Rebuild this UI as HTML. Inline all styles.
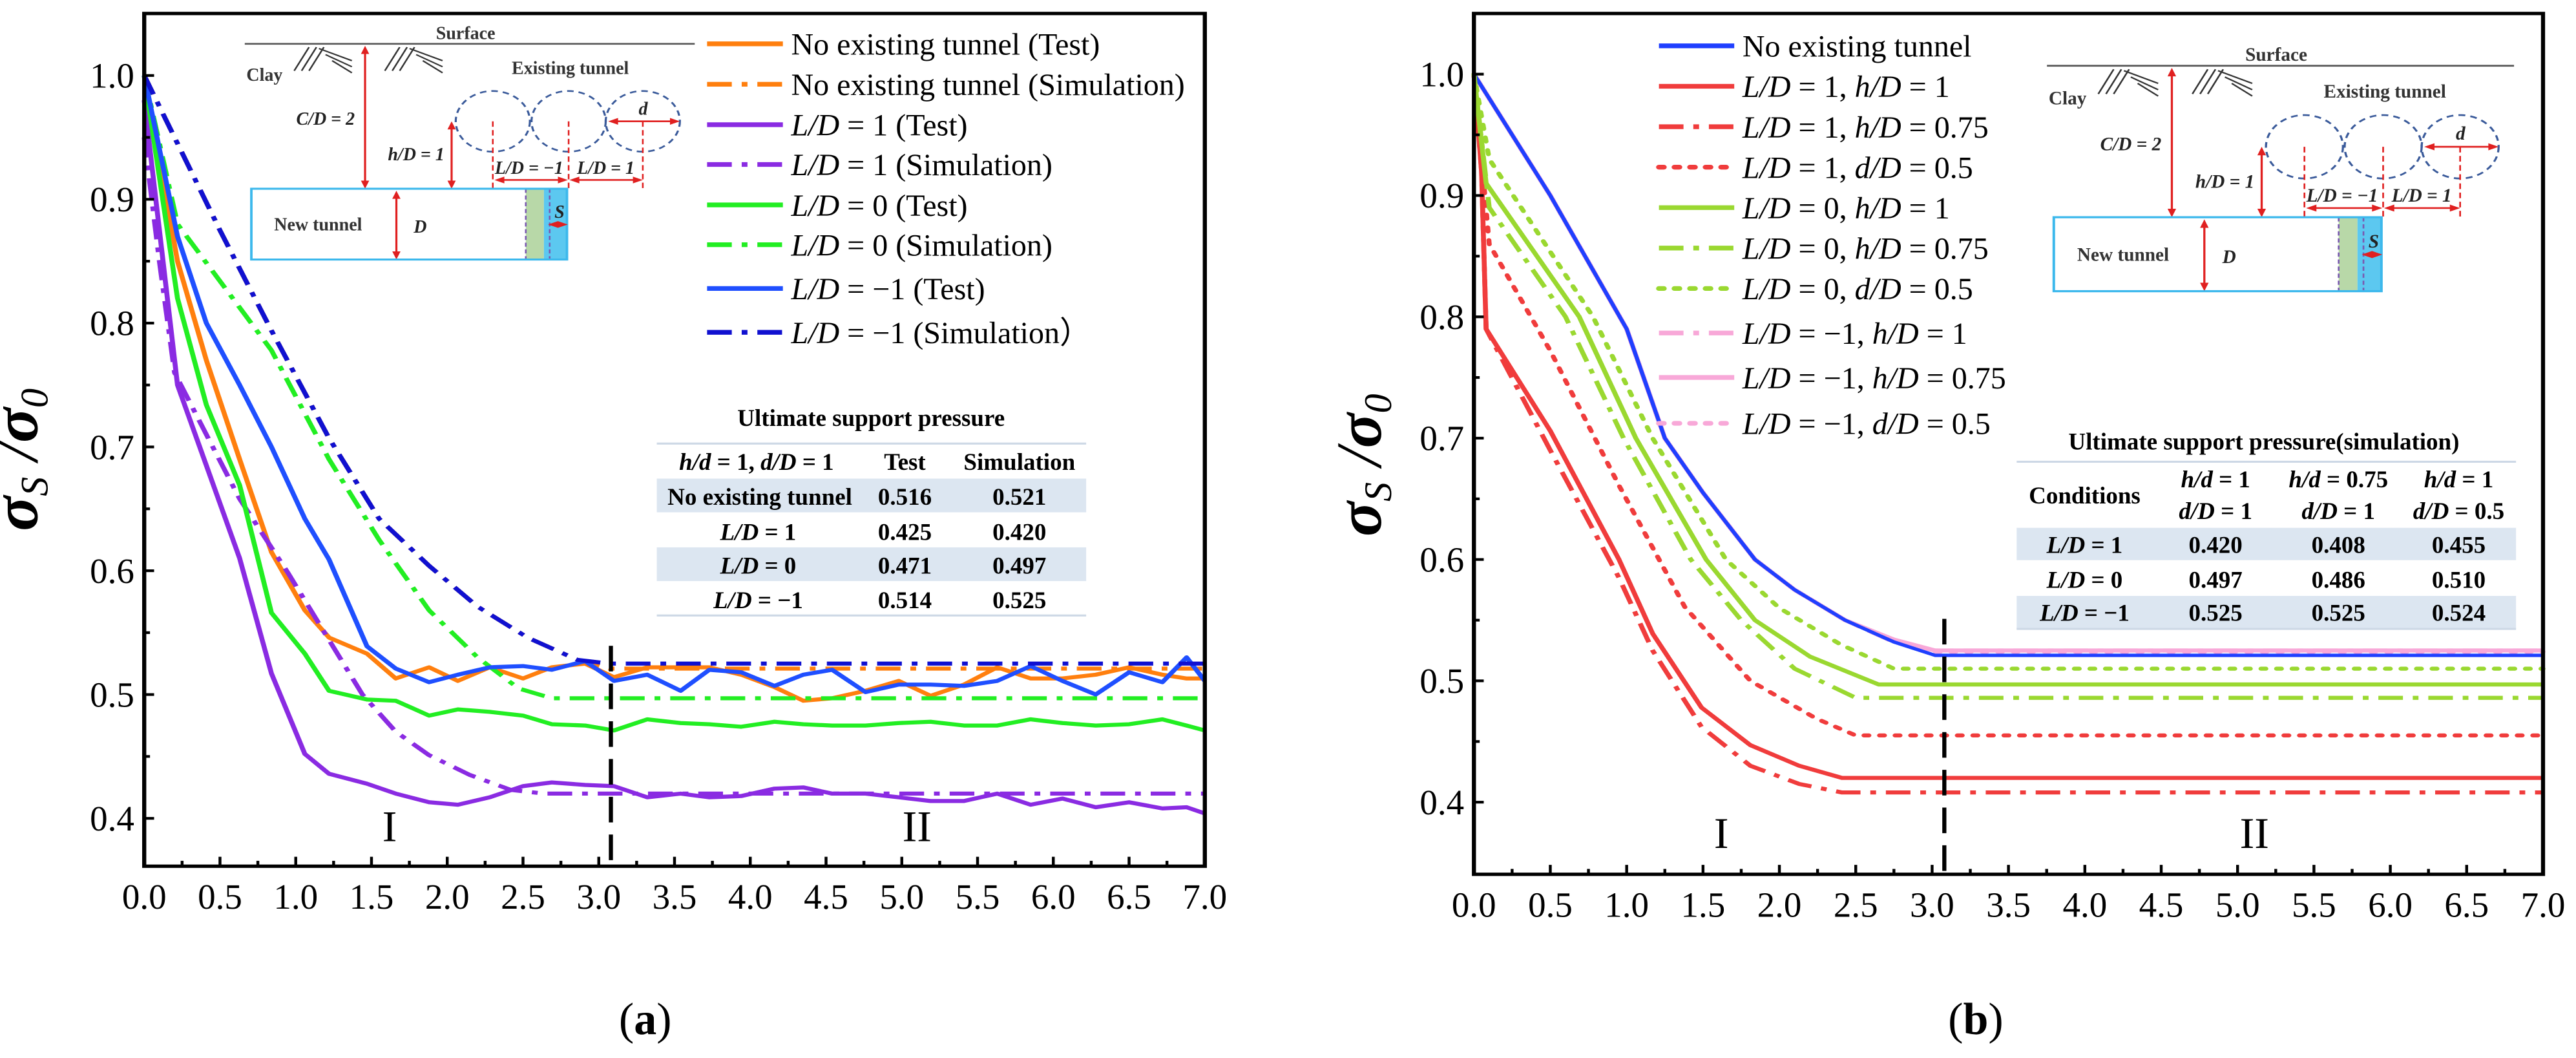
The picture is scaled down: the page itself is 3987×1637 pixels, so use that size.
<!DOCTYPE html>
<html><head><meta charset="utf-8"><style>
body{margin:0;background:#fff}
svg{display:block}
text{font-family:"Liberation Serif",serif}
</style></head><body>
<svg id="fig" width="3987" height="1637" viewBox="0 0 3987 1637" xmlns="http://www.w3.org/2000/svg"></svg>
<script>
// ---------- data: chart (a) ----------
const xA_test = [0,0.22,0.41,0.63,0.84,1.06,1.22,1.47,1.66,1.88,2.07,2.28,2.5,2.69,2.91,3.1,3.32,3.54,3.73,3.94,4.16,4.35,4.54,4.76,4.98,5.19,5.41,5.63,5.85,6.06,6.28,6.5,6.72,6.88,7.0];
const noTunnelTest = [1.0,0.85,0.77,0.69,0.615,0.568,0.546,0.533,0.513,0.522,0.511,0.522,0.513,0.522,0.525,0.514,0.522,0.522,0.522,0.516,0.506,0.495,0.497,0.503,0.511,0.499,0.508,0.522,0.513,0.513,0.516,0.522,0.516,0.513,0.513];
const ld1Test = [0.98,0.75,0.685,0.61,0.517,0.452,0.436,0.428,0.42,0.413,0.411,0.417,0.426,0.429,0.427,0.426,0.417,0.42,0.417,0.418,0.424,0.425,0.42,0.42,0.417,0.414,0.414,0.42,0.411,0.416,0.409,0.413,0.408,0.409,0.404];
const ld0Test = [1.0,0.82,0.734,0.669,0.566,0.533,0.503,0.496,0.495,0.483,0.488,0.486,0.483,0.476,0.475,0.471,0.48,0.477,0.476,0.474,0.478,0.476,0.475,0.475,0.477,0.478,0.475,0.475,0.48,0.477,0.475,0.476,0.48,0.475,0.471];
const ldm1Test = [1.0,0.87,0.8,0.75,0.70,0.642,0.609,0.539,0.521,0.51,0.516,0.522,0.523,0.52,0.527,0.511,0.516,0.503,0.52,0.518,0.507,0.516,0.52,0.502,0.508,0.508,0.507,0.511,0.523,0.511,0.5,0.518,0.51,0.53,0.511];
const xA_simNo = [0,0.2,0.5,0.84,1.22,1.55,1.88,2.2,2.53,2.86,3.07,7.0];
const noTunnelSim = [1.0,0.95,0.875,0.794,0.707,0.642,0.604,0.571,0.546,0.528,0.521,0.521];
const ldm1Sim = [1.0,0.95,0.875,0.794,0.707,0.642,0.604,0.571,0.546,0.528,0.525,0.525];
const xA_sim1 = [0,0.1,0.2,0.41,0.63,0.95,1.22,1.44,1.66,1.88,2.15,2.42,2.64,7.0];
const ld1Sim = [0.95,0.85,0.76,0.71,0.658,0.598,0.544,0.5,0.47,0.451,0.435,0.423,0.42,0.42];
const xA_sim0 = [0,0.22,0.84,1.22,1.55,1.88,2.2,2.47,2.69,7.0];
const ld0Sim = [1.0,0.88,0.778,0.69,0.625,0.568,0.53,0.505,0.497,0.497];
// ---------- data: chart (b) ----------
const xB_top = [0,0.5,1.0,1.25,1.5,1.84,2.1,2.43,2.75,3.02,7.0];
const bNo = [1.0,0.9,0.79,0.70,0.655,0.6,0.575,0.55,0.532,0.521,0.521];
const bM1h1 = [1.0,0.9,0.79,0.70,0.655,0.6,0.575,0.55,0.532,0.525,0.525];
const bM1h075 = [1.0,0.9,0.79,0.70,0.655,0.6,0.575,0.55,0.534,0.525,0.525];
const bM1d05 = [1.0,0.9,0.79,0.70,0.655,0.6,0.575,0.55,0.533,0.524,0.524];
const xB_r1 = [0,0.05,0.08,0.5,0.95,1.17,1.49,1.81,2.13,2.41,7.0];
const bL1h1 = [1.0,0.92,0.79,0.706,0.6,0.539,0.478,0.447,0.43,0.42,0.42];
const bL1h075 = [1.0,0.92,0.79,0.69,0.585,0.525,0.462,0.43,0.415,0.408,0.408];
const xB_r3 = [0,0.1,0.5,0.95,1.38,1.81,2.24,2.5,7.0];
const bL1d05 = [1.0,0.86,0.772,0.661,0.561,0.5,0.469,0.455,0.455];
const xB_g1 = [0,0.08,0.69,1.06,1.52,1.84,2.2,2.65,7.0];
const bL0h1 = [1.0,0.91,0.8,0.7,0.6,0.55,0.52,0.497,0.497];
const xB_g2 = [0,0.1,0.6,0.98,1.42,1.75,2.1,2.5,7.0];
const bL0h075 = [1.0,0.89,0.8,0.7,0.6,0.55,0.51,0.486,0.486];
const xB_g3 = [0,0.1,0.78,1.17,1.65,2.0,2.4,2.75,7.0];
const bL0d05 = [1.0,0.93,0.8,0.7,0.6,0.56,0.53,0.51,0.51];
const xTicks = [0,0.5,1,1.5,2,2.5,3,3.5,4,4.5,5,5.5,6,6.5,7];
const yTicks = [0.4,0.5,0.6,0.7,0.8,0.9,1.0];
const tableA = [["No existing tunnel","0.516","0.521"],["L/D =  1","0.425","0.420"],["L/D =  0","0.471","0.497"],["L/D = \u22121","0.514","0.525"]];
const tableB = [["L/D =  1","0.420","0.408","0.455"],["L/D =  0","0.497","0.486","0.510"],["L/D = \u22121","0.525","0.525","0.524"]];

const NS="http://www.w3.org/2000/svg";
const svg=document.getElementById('fig');
let CUR=svg;
function el(tag,attrs,parent,txt){const e=document.createElementNS(NS,tag);for(const k in attrs)e.setAttribute(k,attrs[k]);if(txt!==undefined)e.textContent=txt;(parent||CUR).appendChild(e);return e;}
function fixText(g,sx,sy){
  g.querySelectorAll('text').forEach(t=>{
    const tr=t.getAttribute('transform');
    if(tr){t.setAttribute('transform',tr+` scale(${1/sy},${1/sx})`);return;}
    const x=t.getAttribute('x')||0,y=t.getAttribute('y')||0;
    t.removeAttribute('x');t.removeAttribute('y');
    t.setAttribute('transform',`translate(${x},${y}) scale(${1/sx},${1/sy})`);
  });
}

const DASHDOT="30 12 7 12", DOT="6 13";
const TF=55, LF=48, BF=37, IF=28;
function makeAxes(P){
  P.sx=v=>P.x0+(v-0)*(P.x1-P.x0)/7;
  P.sy=v=>P.y10+(1-v)*(P.y04-P.y10)/0.6;
  return P;
}
function drawChart(P,series,name){
  const g=el('g',{});
  
  
  const gs=el('g',{},g);
  
  
  series.forEach(s=>{
    const d=s.x.map((xv,i)=>(i?'L':'M')+P.sx(xv).toFixed(1)+' '+P.sy(s.y[i]).toFixed(1)).join(' ');
    const p=el('path',{d:d,fill:'none',stroke:s.c,'stroke-width':s.w||6,'stroke-dasharray':s.dash||'','stroke-linecap':s.dash===DOT?'round':'butt','stroke-linejoin':'round'},gs);
    
    
  });
  const fr=el('rect',{x:P.x0,y:P.top,width:P.x1-P.x0,height:P.bot-P.top,fill:'none',stroke:'#000','stroke-width':5},g);
  
  
  for(let i=0;i<=28;i++){const v=i*0.25;const X=P.sx(v);const major=i%2===0;
    el('line',{x1:X,x2:X,y1:P.bot,y2:P.bot-(major?14:8),stroke:'#000','stroke-width':3.5},g);}
  xTicks.forEach(v=>{const t=el('text',{x:P.sx(v),y:P.bot+63,'font-size':TF,'text-anchor':'middle'},g,v.toFixed(1));
    
    });
  for(let v=0.4;v<=1.051;v+=0.05){const Y=P.sy(v);const major=Math.abs(v*10-Math.round(v*10))<0.01;
    el('line',{x1:P.x0,x2:P.x0+(major?12:7),y1:Y,y2:Y,stroke:'#000','stroke-width':4},g);}
  yTicks.forEach(v=>{const t=el('text',{x:P.x0-12,y:P.sy(v)+18,'font-size':TF,'text-anchor':'end'},g,v.toFixed(1));
    
    });
  const yt=el('text',{transform:`translate(${P.ytx},${P.yty}) rotate(-90)`,'font-size':100,'text-anchor':'middle','font-style':'italic','font-weight':'bold'},g);
  
  
  el('tspan',{},yt,'\u03C3');el('tspan',{'font-size':60,'font-weight':'normal',dy:16},yt,'S');
  el('tspan',{'font-weight':'normal',dy:-16},yt,' /');el('tspan',{},yt,'\u03C3');
  el('tspan',{'font-size':60,'font-weight':'normal',dy:16},yt,'0');
  const dv=el('line',{x1:P.sx(P.divX),x2:P.sx(P.divX),y1:P.divTop,y2:P.bot,stroke:'#000','stroke-width':5,'stroke-dasharray':'38 18'},g);
  
  
  [['I',P.sx(P.s1),P.stY],['II',P.sx(P.s2),P.stY]].forEach(a=>{const t=el('text',{x:a[1],y:a[2],'font-size':68,'text-anchor':'middle'},g,a[0]);
    
    });
  const cap=el('text',{x:P.capX,y:1534,'font-size':70,'text-anchor':'middle'},g);
  
  
  el('tspan',{},cap,'(');el('tspan',{'font-weight':'bold'},cap,P.cap);el('tspan',{},cap,')');
  return g;
}
function legend(items,lx,tx,ys,fs){
  const g=el('g',{});
  
  
  items.forEach((it,i)=>{
    const e=el('g',{},g);
    
    
    el('line',{x1:lx,x2:lx+92,y1:ys[i],y2:ys[i],stroke:it.c,'stroke-width':7,'stroke-dasharray':it.dash||'','stroke-linecap':it.dash===DOT?'round':'butt'},e);
    const t=el('text',{x:tx,y:ys[i]+16,'font-size':fs},e);
    it.t.forEach(p=>{el('tspan',p[1]?{'font-style':'italic'}:{},t,p[0]);});
  });
}
function inset(ox,oy,s){
  const g=el('g',{transform:`translate(${ox},${oy}) scale(${s})`});
  
  
  const B={'font-weight':'bold','font-size':IF,fill:'#333'};
  el('line',{x1:0,y1:35,x2:546,y2:35,stroke:'#555','stroke-width':2.5},g);
  el('text',Object.assign({x:268,y:28,'text-anchor':'middle'},B),g,'Surface');
  [[60],[170]].forEach(h=>{for(let k=0;k<3;k++){el('line',{x1:h[0]+k*9,y1:75,x2:h[0]+k*9+18,y2:40,stroke:'#333','stroke-width':2},g);el('line',{x1:h[0]+30+k*8,y1:42+k*9,x2:h[0]+70,y2:60+k*9,stroke:'#333','stroke-width':2},g);}});
  el('text',Object.assign({x:2,y:90},B),g,'Clay');
  const R='#e02020';
  function varr(x,y1,y2){el('line',{x1:x,y1:y1+8,x2:x,y2:y2-8,stroke:R,'stroke-width':2.5},g);
    el('path',{d:`M${x-5} ${y1+12}L${x} ${y1}L${x+5} ${y1+12}Z M${x-5} ${y2-12}L${x} ${y2}L${x+5} ${y2-12}Z`,fill:R},g);}
  function harr(x1,x2,y){el('line',{x1:x1+8,y1:y,x2:x2-8,y2:y,stroke:R,'stroke-width':2.5},g);
    el('path',{d:`M${x1+12} ${y-5}L${x1} ${y}L${x1+12} ${y+5}Z M${x2-12} ${y-5}L${x2} ${y}L${x2-12} ${y+5}Z`,fill:R},g);}
  varr(146,38,250); varr(251,150,250); varr(184,253,355);
  const I={'font-weight':'bold','font-style':'italic','font-size':IF,fill:'#222'};
  el('text',Object.assign({x:98,y:155,'text-anchor':'middle'},I),g,'C/D = 2');
  el('text',Object.assign({x:208,y:208,'text-anchor':'middle'},I),g,'h/D = 1');
  el('text',Object.assign({x:205,y:315},I),g,'D');
  el('text',Object.assign({x:395,y:80,'text-anchor':'middle'},B),g,'Existing tunnel');
  [301,393,483].forEach(cx=>el('circle',{cx:cx,cy:150,r:45,fill:'none',stroke:'#3a5a9a','stroke-width':2.5,'stroke-dasharray':'8 6'},g));
  [301,393,483].forEach(cx=>el('line',{x1:cx,y1:150,x2:cx,y2:250,stroke:R,'stroke-width':2,'stroke-dasharray':'8 5'},g));
  harr(303,392,237); harr(394,483,237); harr(441,528,150);
  el('text',Object.assign({x:345,y:228,'text-anchor':'middle','font-size':24},I),g,'L/D = \u22121');
  el('text',Object.assign({x:438,y:228,'text-anchor':'middle','font-size':24},I),g,'L/D = 1');
  el('text',Object.assign({x:478,y:140},I),g,'d');
  el('rect',{x:341,y:250,width:22,height:105,fill:'#b8d8a8'},g);
  el('rect',{x:363,y:250,width:28,height:105,fill:'#5cc8f0'},g);
  el('line',{x1:341,y1:250,x2:341,y2:355,stroke:'#7a5ab0','stroke-width':2,'stroke-dasharray':'6 4'},g);
  el('line',{x1:370,y1:250,x2:370,y2:355,stroke:'#7a5ab0','stroke-width':2,'stroke-dasharray':'6 4'},g);
  el('rect',{x:8,y:250,width:383,height:105,fill:'none',stroke:'#3cb8ec','stroke-width':3},g);
  el('text',Object.assign({x:89,y:312,'text-anchor':'middle'},B),g,'New tunnel');
  el('text',Object.assign({x:382,y:293,'text-anchor':'middle','font-size':24},I),g,'S');
  harr(368,392,303);
}

// ---------- panel (a) ----------
const SAX=1.2755, SY=1.043, SBX=1.267;
const pA=el('g',{transform:`scale(${SAX},${SY})`},svg);


CUR=pA;
const PA=makeAxes({x0:175,x1:1462,top:20,bot:1285,y10:112,y04:1214,ytx:45,yty:682,divX:3.08,divTop:958,s1:1.62,s2:5.1,stY:1248,capX:783,cap:'a'});
drawChart(PA,[
  {n:'no-tunnel-test',x:xA_test,y:noTunnelTest,c:'#ff7f0e'},
  {n:'no-tunnel-sim',x:xA_simNo,y:noTunnelSim,c:'#ff7f0e',dash:DASHDOT},
  {n:'ld1-test',x:xA_test,y:ld1Test,c:'#8a2be2'},
  {n:'ld1-sim',x:xA_sim1,y:ld1Sim,c:'#8a2be2',dash:DASHDOT},
  {n:'ld0-test',x:xA_test,y:ld0Test,c:'#22ee22'},
  {n:'ld0-sim',x:xA_sim0,y:ld0Sim,c:'#22ee22',dash:DASHDOT},
  {n:'ldm1-test',x:xA_test,y:ldm1Test,c:'#1f4fff'},
  {n:'ldm1-sim',x:xA_simNo,y:ldm1Sim,c:'#1010d0',dash:DASHDOT}
],'chart-a');
legend([
 {c:'#ff7f0e',t:[['No existing tunnel (Test)']]},
 {c:'#ff7f0e',dash:DASHDOT,t:[['No existing tunnel (Simulation)']]},
 {c:'#8a2be2',t:[['L/D',1],[' = 1 (Test)']]},
 {c:'#8a2be2',dash:DASHDOT,t:[['L/D',1],[' = 1 (Simulation)']]},
 {c:'#22ee22',t:[['L/D',1],[' = 0 (Test)']]},
 {c:'#22ee22',dash:DASHDOT,t:[['L/D',1],[' = 0 (Simulation)']]},
 {c:'#1f4fff',t:[['L/D',1],[' = \u22121 (Test)']]},
 {c:'#1010d0',dash:DASHDOT,t:[['L/D',1],[' = \u22121 (Simulation\uFF09']]}
],858,960,[65,125,185,244,304,363,428,493],LF);
inset(297,30,1);
(function(){
  const g=el('g',{});
  
  
  el('rect',{x:797,y:710,width:521,height:50,fill:'#dce6f1'},g);
  el('rect',{x:797,y:812,width:521,height:50,fill:'#dce6f1'},g);
  el('line',{x1:797,x2:1318,y1:658,y2:658,stroke:'#cdd8e6','stroke-width':3},g);
  el('line',{x1:797,x2:1318,y1:913,y2:913,stroke:'#cdd8e6','stroke-width':3},g);
  const B={'font-weight':'bold','font-size':BF,'text-anchor':'middle'};
  el('text',Object.assign({x:1057,y:632},B),g,'Ultimate support pressure');
  const h=el('text',Object.assign({x:918,y:697},B),g);
  el('tspan',{'font-style':'italic'},h,'h/d');el('tspan',{},h,' = 1, ');el('tspan',{'font-style':'italic'},h,'d/D');el('tspan',{},h,' = 1');
  el('text',Object.assign({x:1098,y:697},B),g,'Test');
  el('text',Object.assign({x:1237,y:697},B),g,'Simulation');
  const ry=[749,801,851,902];
  tableA.forEach((r,i)=>{
    const t=el('text',Object.assign({x:r[0].startsWith('L/D')?920:922,y:ry[i]},B),g);
    if(r[0].startsWith('L/D')){el('tspan',{'font-style':'italic'},t,'L/D');el('tspan',{},t,r[0].slice(3));}else t.textContent=r[0];
    el('text',Object.assign({x:1098,y:ry[i]},B),g,r[1]);
    el('text',Object.assign({x:1237,y:ry[i]},B),g,r[2]);
  });
})();
fixText(pA,SAX,SY);

// ---------- panel (b) ----------
const pB=el('g',{transform:`matrix(${SBX},0,0,${SY},${2000-2000*SBX},0)`},svg);


CUR=pB;
const PB=makeAxes({x0:2222,x1:3528,top:20,bot:1297,y10:110,y04:1190,ytx:2108,yty:690,divX:3.08,divTop:918,s1:1.62,s2:5.11,stY:1258,capX:2835,cap:'b'});
drawChart(PB,[
  {n:'ldm1-d05',x:xB_top,y:bM1d05,c:'#f8a8d8',dash:DOT},
  {n:'ldm1-h075',x:xB_top,y:bM1h075,c:'#f8a8d8'},
  {n:'ldm1-h1',x:xB_top,y:bM1h1,c:'#f8a8d8',dash:DASHDOT},
  {n:'no-tunnel',x:xB_top,y:bNo,c:'#1f3fff',w:5},
  {n:'ld1-h1',x:xB_r1,y:bL1h1,c:'#f03c3c'},
  {n:'ld1-h075',x:xB_r1,y:bL1h075,c:'#f03c3c',dash:DASHDOT},
  {n:'ld1-d05',x:xB_r3,y:bL1d05,c:'#f03c3c',dash:DOT},
  {n:'ld0-h1',x:xB_g1,y:bL0h1,c:'#9ad830'},
  {n:'ld0-h075',x:xB_g2,y:bL0h075,c:'#9ad830',dash:DASHDOT},
  {n:'ld0-d05',x:xB_g3,y:bL0d05,c:'#9ad830',dash:DOT}
],'chart-b');
legend([
 {c:'#1f3fff',t:[['No existing tunnel']]},
 {c:'#f03c3c',t:[['L/D',1],[' = 1, '],['h/D',1],[' = 1']]},
 {c:'#f03c3c',dash:DASHDOT,t:[['L/D',1],[' = 1, '],['h/D',1],[' = 0.75']]},
 {c:'#f03c3c',dash:DOT,t:[['L/D',1],[' = 1, '],['d/D',1],[' = 0.5']]},
 {c:'#9ad830',t:[['L/D',1],[' = 0, '],['h/D',1],[' = 1']]},
 {c:'#9ad830',dash:DASHDOT,t:[['L/D',1],[' = 0, '],['h/D',1],[' = 0.75']]},
 {c:'#9ad830',dash:DOT,t:[['L/D',1],[' = 0, '],['d/D',1],[' = 0.5']]},
 {c:'#f8a8d8',dash:DASHDOT,t:[['L/D',1],[' = \u22121, '],['h/D',1],[' = 1']]},
 {c:'#f8a8d8',t:[['L/D',1],[' = \u22121, '],['h/D',1],[' = 0.75']]},
 {c:'#f8a8d8',dash:DOT,t:[['L/D',1],[' = \u22121, '],['d/D',1],[' = 0.5']]}
],2448,2550,[68,128,188,248,308,368,428,494,560,628],LF);
inset(2922,61,1.045);
(function(){
  const g=el('g',{});
  
  
  el('rect',{x:2885,y:783,width:610,height:48,fill:'#dce6f1'},g);
  el('rect',{x:2885,y:884,width:610,height:49,fill:'#dce6f1'},g);
  el('line',{x1:2885,x2:3495,y1:685,y2:685,stroke:'#cdd8e6','stroke-width':3},g);
  el('line',{x1:2885,x2:3495,y1:933,y2:933,stroke:'#cdd8e6','stroke-width':3},g);
  const B={'font-weight':'bold','font-size':BF,'text-anchor':'middle'};
  el('text',Object.assign({x:3187,y:667},B),g,'Ultimate support pressure(simulation)');
  el('text',Object.assign({x:2968,y:747},B),g,'Conditions');
  const hd=[[3128,'h/d',' = 1','d/D',' = 1'],[3278,'h/d',' = 0.75','d/D',' = 1'],[3425,'h/d',' = 1','d/D',' = 0.5']];
  hd.forEach(h=>{
    const a=el('text',Object.assign({x:h[0],y:723},B),g);el('tspan',{'font-style':'italic'},a,h[1]);el('tspan',{},a,h[2]);
    const b=el('text',Object.assign({x:h[0],y:770},B),g);el('tspan',{'font-style':'italic'},b,h[3]);el('tspan',{},b,h[4]);
  });
  const ry=[820,872,921], cx=[2968,3128,3278,3425];
  tableB.forEach((r,i)=>{
    const t=el('text',Object.assign({x:cx[0],y:ry[i]},B),g);
    el('tspan',{'font-style':'italic'},t,'L/D');el('tspan',{},t,r[0].slice(3));
    for(let k=1;k<4;k++)el('text',Object.assign({x:cx[k],y:ry[i]},B),g,r[k]);
  });
})();
fixText(pB,SBX,SY);
</script>
</body></html>
